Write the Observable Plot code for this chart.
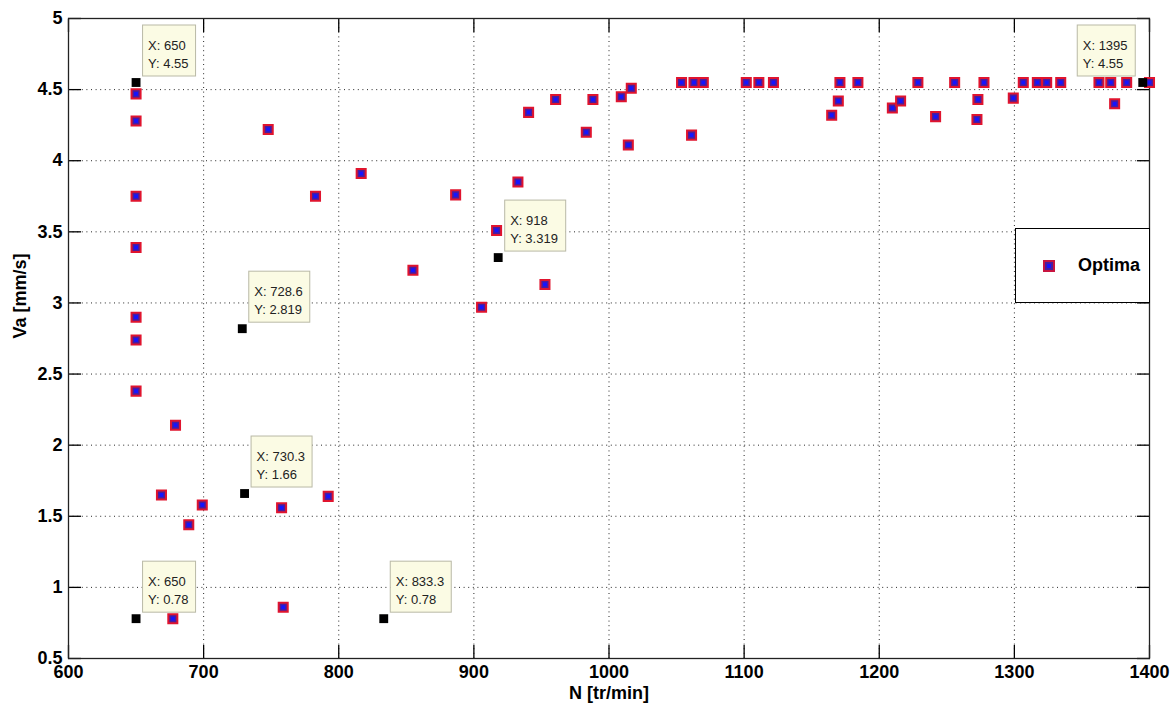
<!DOCTYPE html>
<html>
<head>
<meta charset="utf-8">
<script src="https://cdn.jsdelivr.net/npm/d3@7"></script>
<script src="https://cdn.jsdelivr.net/npm/@observablehq/plot@0.6"></script>
<style>
  html, body { margin: 0; padding: 0; background: #fff; }
  #wrap { position: relative; width: 1176px; height: 713px; overflow: hidden; }
  #legend {
    position: absolute; left: 1015px; top: 228px; width: 135px; height: 75px;
    box-sizing: border-box; border: 1.5px solid #000; background: #fff;
    font-family: "Liberation Sans", Arial, sans-serif; font-weight: bold; font-size: 18px; color: #000;
  }
  #legend svg { position: absolute; left: 26px; top: 30px; }
  #legend span { position: absolute; left: 62px; top: 26px; }
</style>
</head>
<body>
<div id="wrap"></div>
<script>
// ---- data ----
const optimaN = [
  650, 650, 650, 650, 650, 650, 650,
  668.8, 679.2, 689, 699, 677.2,
  747.8, 782.8, 816.6, 757.7, 758.9, 792.2,
  854.9, 886.5, 905.7, 916.8, 932.6, 940.5, 952.6, 960.5, 983.2, 988.1,
  1009.1, 1014.3, 1016.5, 1053.7, 1061.1, 1062.9, 1069.8,
  1101.6, 1110.9, 1121.7, 1164.8, 1169.7, 1170.9, 1184.2,
  1209.7, 1215.8, 1228.6, 1241.7, 1255.8, 1272.3, 1273, 1277.5, 1299.2,
  1306.6, 1317, 1323.9, 1334.3, 1362.6, 1371.3, 1374.2, 1383.1, 1400
];
const optimaVa = [
  4.47, 4.28, 3.75, 3.39, 2.90, 2.74, 2.38,
  1.65, 2.14, 1.44, 1.58, 0.78,
  4.22, 3.75, 3.91, 1.56, 0.86, 1.64,
  3.23, 3.76, 2.97, 3.51, 3.85, 4.34, 3.13, 4.43, 4.20, 4.43,
  4.45, 4.11, 4.51, 4.55, 4.18, 4.55, 4.55,
  4.55, 4.55, 4.55, 4.32, 4.42, 4.55, 4.55,
  4.37, 4.42, 4.55, 4.31, 4.55, 4.29, 4.43, 4.55, 4.44,
  4.55, 4.55, 4.55, 4.55, 4.55, 4.55, 4.40, 4.55, 4.55
];
const tipN  = [650, 728.6, 918, 730.3, 650, 833.3, 1395];
const tipVa = [4.55, 2.819, 3.319, 1.66, 0.78, 0.78, 4.55];
const tipSide = ["right", "right", "right", "right", "right", "right", "left"];
const xTicks = [600, 700, 800, 900, 1000, 1100, 1200, 1300, 1400];
const yTicks = [0.5, 1, 1.5, 2, 2.5, 3, 3.5, 4, 4.5, 5];
const xLabel = "N [tr/min]";
const yLabel = "Va [mm/s]";
const seriesName = "Optima";

// ---- tables ----
const optima = optimaN.map((n, i) => ({n, va: optimaVa[i]}));
const tips = tipN.map((n, i) => ({n, va: tipVa[i], side: tipSide[i],
  lx: `X: ${n}`, ly: `Y: ${tipVa[i]}`}));

const ctx = document.createElement("canvas").getContext("2d");
ctx.font = "13px 'Liberation Sans', Arial, sans-serif";
tips.forEach(t => { t.w = Math.round(Math.max(ctx.measureText(t.lx).width, ctx.measureText(t.ly).width) + 13); });

const tipH = 51, tipGap = 7, tipLift = 6;
const tipMarks = tips.flatMap(t => {
  const right = t.side === "right";
  return [
    Plot.rect([t], {
      x1: "n", x2: "n", y1: "va", y2: "va",
      insetLeft: right ? tipGap : -(tipGap + t.w),
      insetRight: right ? -(tipGap + t.w) : tipGap,
      insetTop: -(tipLift + tipH), insetBottom: tipLift,
      fill: "#fbfbe4", stroke: "#b9b9a6", strokeWidth: 1
    }),
    Plot.text([t], {
      x: "n", y: "va", text: d => `${d.lx}\n${d.ly}`,
      textAnchor: "start", lineAnchor: "top", lineHeight: 1.42,
      dx: right ? tipGap + 5 : -(tipGap + t.w) + 5, dy: -(tipLift + tipH) + 11,
      fontSize: 13, fontWeight: "normal", fill: "#222"
    })
  ];
});

const plot = Plot.plot({
  width: 1176, height: 713,
  marginTop: 18, marginRight: 27, marginBottom: 55, marginLeft: 68,
  style: {fontFamily: "'Liberation Sans', Arial, sans-serif", fontSize: "18px", fontWeight: "bold", color: "#000", background: "#fff"},
  x: {domain: [600, 1400]},
  y: {domain: [0.5, 5]},
  marks: [
    Plot.gridX(xTicks, {stroke: "#000", strokeOpacity: 0.85, strokeDasharray: "1,3.6"}),
    Plot.gridY(yTicks, {stroke: "#000", strokeOpacity: 0.85, strokeDasharray: "1,3.6"}),
    Plot.axisX({ticks: xTicks, anchor: "bottom", tickSize: 0, tickPadding: 7, label: null, tickFormat: d => String(d)}),
    Plot.axisY({ticks: yTicks, anchor: "left", tickSize: 0, tickPadding: 6, label: null, tickFormat: d => String(d)}),
    Plot.axisX({ticks: xTicks, anchor: "bottom", tickSize: -13, label: null, tickFormat: () => "", strokeWidth: 1.3}),
    Plot.axisX({ticks: xTicks, anchor: "top", tickSize: -13, label: null, tickFormat: () => "", strokeWidth: 1.3}),
    Plot.axisY({ticks: yTicks, anchor: "left", tickSize: -13, label: null, tickFormat: () => "", strokeWidth: 1.3}),
    Plot.axisY({ticks: yTicks, anchor: "right", tickSize: -13, label: null, tickFormat: () => "", strokeWidth: 1.3}),
    Plot.frame({stroke: "#222", strokeWidth: 1.3}),
    Plot.dot(optima, {x: "n", y: "va", symbol: "square", r: 5.1, fill: "#4a1c9c", stroke: "#e0142e", strokeWidth: 2}),
    Plot.dot(optima, {x: "n", y: "va", symbol: "square", r: 2.2, fill: "#1414ff"}),
    ...tipMarks,
    Plot.dot(tips, {x: "n", y: "va", symbol: "square", r: 5, fill: "#000"}),
    Plot.text([xLabel], {frameAnchor: "bottom", dy: 40, text: d => d, fontSize: 18, fontWeight: "bold"}),
    Plot.text([yLabel], {frameAnchor: "left", dx: -48, rotate: -90, text: d => d, fontSize: 18, fontWeight: "bold"})
  ]
});

const wrap = document.getElementById("wrap");
wrap.appendChild(plot);
const legend = document.createElement("div");
legend.id = "legend";
legend.innerHTML = `<svg width="14" height="14" viewBox="0 0 14 14"><rect x="2" y="2" width="10" height="10" fill="#4a1c9c" stroke="#c81440" stroke-width="2"/><rect x="5" y="5" width="4" height="4" fill="#1414ff"/></svg><span></span>`;
legend.querySelector("span").textContent = seriesName;
wrap.appendChild(legend);
</script>
</body>
</html>
